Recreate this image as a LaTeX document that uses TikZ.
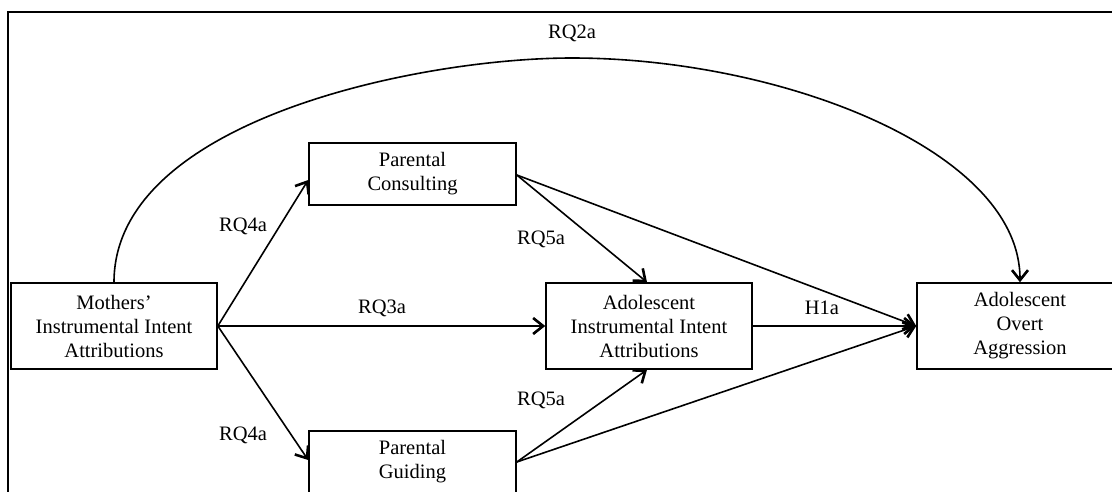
\documentclass[tikz,border=0pt]{standalone}
\usepackage{fontspec}
\setmainfont{Liberation Serif}
\usetikzlibrary{arrows.meta}
\begin{document}
\begin{tikzpicture}[x=1pt,y=-1pt,
  boxbig/.style={draw,line width=1.6pt,minimum width=206pt,minimum height=86pt,align=center,inner sep=0pt,font=\fontsize{20.5}{24}\selectfont},
  boxsmall/.style={draw,line width=1.6pt,minimum width=207pt,minimum height=62pt,align=center,inner sep=0pt,font=\fontsize{20.5}{24}\selectfont},
  conn/.style={line width=1.6pt,-{Straight Barb[length=10pt,width=16pt,line width=2.6pt]}},
  lab/.style={font=\fontsize{20.5}{24}\selectfont,inner sep=0pt}]
\useasboundingbox (0,0) rectangle (1112,491);
\clip (0,0) rectangle (1112,491);
\draw[line width=1.8pt] (8,495) -- (8,12) -- (1116,12);
\node[boxbig] (moth) at (114,326) {Mothers’\\Instrumental Intent\\Attributions};
\node[boxsmall] (cons) at (412.5,174) {Parental\\Consulting};
\node[boxsmall] (guid) at (412.5,462) {Parental\\Guiding};
\node[boxbig] (adol) at (649,326) {Adolescent\\Instrumental Intent\\Attributions};
\node[boxbig] (overt) at (1020,326) {Adolescent\\Overt\\Aggression};
\coordinate (mr) at (moth.east);
\coordinate (ct) at ([xshift=-2pt]adol.north);
\coordinate (cb) at ([xshift=-2pt]adol.south);
\draw[conn] (moth.north) .. controls (114,120) and (420,58) .. (572,58) .. controls (780,58) and (1020,150) .. (overt.north);
\draw[conn] (mr) -- (cons.west |- 0,180);
\draw[conn] (mr) -- (guid.west |- 0,460);
\draw[conn] (mr) -- (adol.west);
\draw[conn] (cons.east |- 0,175) -- (ct);
\draw[conn] (cons.east |- 0,175) -- (overt.west);
\draw[conn] (guid.east |- 0,462) -- (cb);
\draw[conn] (guid.east |- 0,462) -- (overt.west);
\draw[conn] (adol.east) -- (overt.west);
\node[lab] (l2) at (572,33) {RQ2a};
\node[lab] (l4u) at (243,226) {RQ4a};
\node[lab] (l4d) at (243,435) {RQ4a};
\node[lab] (l3) at (382,308) {RQ3a};
\node[lab] (l5u) at (541,239) {RQ5a};
\node[lab] (l5d) at (541,400) {RQ5a};
\node[lab] (lh) at (822,308) {H1a};
\end{tikzpicture}
\end{document}
